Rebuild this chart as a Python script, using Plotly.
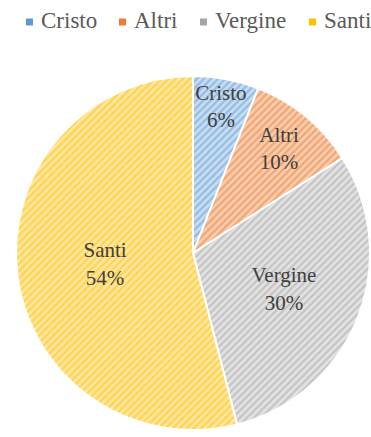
import plotly.graph_objects as go

# Share of subjects by category
labels = ["Cristo", "Altri", "Vergine", "Santi"]
values = [6, 10, 30, 54]
stripe_colors = ["#5B9BD5", "#ED7D31", "#A5A5A5", "#FFC000"]
base_colors = ["#C9DDF1", "#F8CDB0", "#E2E2E2", "#FFE7A0"]

W, H = 371, 437
SERIF = "Liberation Serif"

fig = go.Figure()

fig.add_trace(
    go.Pie(
        labels=labels,
        values=values,
        sort=False,
        direction="clockwise",
        rotation=0,
        texttemplate="%{label}<br>%{percent:.0%}",
        textposition="inside",
        insidetextorientation="horizontal",
        textfont=dict(family=SERIF, size=21, color="#404040"),
        marker=dict(
            colors=base_colors,
            line=dict(color="white", width=2),
            pattern=dict(shape="/", fgcolor=stripe_colors, size=5, solidity=0.45, fillmode="overlay"),
        ),
        domain=dict(x=[16 / W, 370 / W], y=[1 - 430 / H, 1 - 76 / H]),
        hoverinfo="skip",
        showlegend=False,
    )
)

# Single-row legend across the top: small solid swatch followed by the label
legend_left = [26, 119, 200, 309]   # swatch left edges in px
swatch = 7
legend_mid = 22                     # vertical centre of the row in px
for name, col, x0 in zip(labels, stripe_colors, legend_left):
    fig.add_shape(
        type="rect", xref="paper", yref="paper",
        x0=x0 / W, x1=(x0 + swatch) / W,
        y0=1 - (legend_mid + swatch / 2) / H, y1=1 - (legend_mid - swatch / 2) / H,
        fillcolor=col, line=dict(width=0),
    )
    fig.add_annotation(
        text=name, xref="paper", yref="paper",
        x=(x0 + swatch + 6) / W, y=1 - (legend_mid - 1) / H,
        xanchor="left", yanchor="middle", showarrow=False,
        font=dict(family=SERIF, size=23, color="#595959"),
    )

fig.update_layout(
    width=W,
    height=H,
    margin=dict(l=0, r=0, t=0, b=0),
    paper_bgcolor="white",
    plot_bgcolor="white",
    showlegend=False,
    uniformtext=dict(minsize=21, mode="show"),
)

fig.write_html("out.html")
